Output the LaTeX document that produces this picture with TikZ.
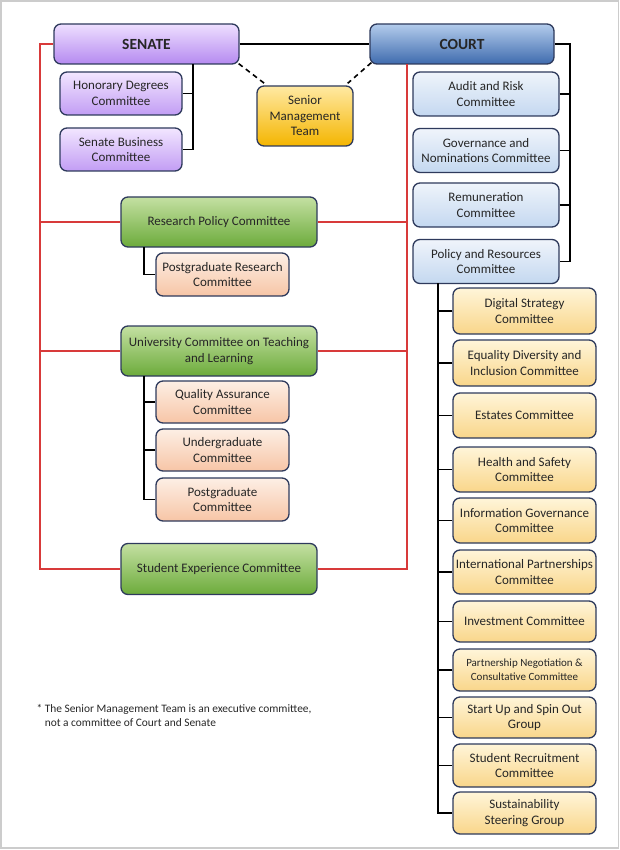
\documentclass[tikz,border=0pt]{standalone}
\usepackage{fontspec}
\setmainfont{Carlito}
\definecolor{edge}{HTML}{2E3A5C}
\definecolor{txt}{HTML}{262626}
\definecolor{redl}{HTML}{D83A3A}

\begin{document}
\begin{tikzpicture}[x=1pt,y=-1pt,
	box/.style={draw=edge,line width=1.3pt,rounded corners=7pt,align=center,inner sep=1pt,text=txt,font=\fontsize{13}{15.5}\selectfont},
	senbox/.style={box,top color=senTop,bottom color=senBot},
	crtbox/.style={box,top color=crtTop,bottom color=crtBot},
	smtbox/.style={box,top color=smtTop,bottom color=smtBot},
	purbox/.style={box,top color=purTop,bottom color=purBot},
	blubox/.style={box,top color=bluTop,bottom color=bluBot},
	grnbox/.style={box,top color=grnTop,bottom color=grnBot},
	pchbox/.style={box,top color=pchTop,bottom color=pchBot},
	ylwbox/.style={box,top color=ylwTop,bottom color=ylwBot,minimum width=143pt},
	blk/.style={draw=black,line width=1.8pt},
	redline/.style={draw=redl,line width=1.6pt}]
	\definecolor{senTop}{HTML}{EEDFFF}\definecolor{senBot}{HTML}{B58AF0}
	\definecolor{crtTop}{HTML}{B3CCEC}\definecolor{crtBot}{HTML}{3F6BAE}
	\definecolor{smtTop}{HTML}{FFE9A3}\definecolor{smtBot}{HTML}{F4B500}
	\definecolor{purTop}{HTML}{F2E6FF}\definecolor{purBot}{HTML}{C29DF4}
	\definecolor{bluTop}{HTML}{EFF4FB}\definecolor{bluBot}{HTML}{C4D8F0}
	\definecolor{grnTop}{HTML}{C4E0A2}\definecolor{grnBot}{HTML}{6CAB3B}
	\definecolor{pchTop}{HTML}{FDEFE5}\definecolor{pchBot}{HTML}{F7C5A6}
	\definecolor{ylwTop}{HTML}{FFF5D9}\definecolor{ylwBot}{HTML}{F9D68A}
		\useasboundingbox (0,0) rectangle (620,850);
		\draw[gray!40,line width=1.5pt] (1,1) rectangle (618.5,848);
		\node[senbox,minimum width=185pt,minimum height=40pt,font=\fontsize{15.5}{18}\selectfont\bfseries] (SEN) at (146.5,44) {SENATE};
		\node[crtbox,minimum width=184pt,minimum height=40pt,font=\fontsize{15.5}{18}\selectfont\bfseries] (CRT) at (462,44) {COURT};
		\node[smtbox,minimum width=96pt,minimum height=60pt] (SMT) at (305,116) {Senior\\Management\\Team};
		\node[purbox,minimum width=122pt,minimum height=43pt] (HDC) at (121,93.5) {Honorary Degrees\\Committee};
		\node[purbox,minimum width=122pt,minimum height=43pt] (SBC) at (121,149.5) {Senate Business\\Committee};
		\node[blubox,minimum width=146pt,minimum height=44pt] (ARC) at (486,94) {Audit and Risk\\Committee};
		\node[blubox,minimum width=146pt,minimum height=44pt] (GNC) at (486,150.5) {Governance and\\Nominations Committee};
		\node[blubox,minimum width=146pt,minimum height=44pt] (REM) at (486,205) {Remuneration\\Committee};
		\node[blubox,minimum width=146pt,minimum height=44pt] (PRS) at (486,261.5) {Policy and Resources\\Committee};
		\node[grnbox,minimum width=196pt,minimum height=50pt] (RPC) at (219,222) {Research Policy Committee};
		\node[grnbox,minimum width=196pt,minimum height=50pt] (UCT) at (219,351) {University Committee on Teaching\\and Learning};
		\node[grnbox,minimum width=196pt,minimum height=51pt] (SEC) at (219,569) {Student Experience Committee};
		\node[pchbox,minimum width=133pt,minimum height=43pt] (PRC) at (222.5,274.5) {Postgraduate Research\\Committee};
		\node[pchbox,minimum width=133pt,minimum height=42pt] (QAC) at (222.5,402) {Quality Assurance\\Committee};
		\node[pchbox,minimum width=133pt,minimum height=42pt] (UGC) at (222.5,450) {Undergraduate\\Committee};
		\node[pchbox,minimum width=133pt,minimum height=43pt] (PGC) at (222.5,499.5) {Postgraduate\\Committee};
		\foreach \i/\y/\h/\t in {1/311/46/{Digital Strategy\\Committee},
			2/363/46/{Equality Diversity and\\Inclusion Committee},
			3/415.5/45/{Estates Committee},
			4/469.5/45/{Health and Safety\\Committee},
			5/520.5/45/{Information Governance\\Committee},
			6/572/44/{International Partnerships\\Committee},
			7/621.5/41/{Investment Committee},
			9/717.5/41/{Start Up and Spin Out\\Group},
			10/765.5/43/{Student Recruitment\\Committee},
			11/813/42/{Sustainability\\Steering Group}}
		\node[ylwbox,minimum height=\h pt] (PR\i) at (524.5,\y) {\t};
		\node[ylwbox,minimum height=42pt,font=\fontsize{11}{14}\selectfont] (PR8) at (524.5,670) {Partnership Negotiation \&\\Consultative Committee};
		\coordinate (SJ) at (193,64);
		\coordinate (CJ) at (570,44);
		\coordinate (RJ) at (144,247);
		\coordinate (UJ) at (144,376);
		\coordinate (PJ) at (438,283);
		\coordinate (RL) at (40,44);
		\coordinate (RR) at (407,64);
		\draw[blk] (SEN) -- (CRT);
		\draw[blk] (SJ) |- (SBC.east);
		\draw[blk] (HDC.east) -- (HDC.east -| SJ);
		\draw[blk] (CRT.east) -- (CJ) |- (PRS.east);
		\foreach \n in {ARC,GNC,REM}
		\draw[blk] (\n.east) -- (\n.east -| CJ);
		\draw[blk] (RJ) |- (PRC.west);
		\draw[blk] (UJ) |- (PGC.west);
		\foreach \n in {QAC,UGC}
		\draw[blk] (\n.west) -- (\n.west -| UJ);
		\draw[blk] (PJ) |- (PR11.west);
		\foreach \i in {1,...,10}
		\draw[blk] (PR\i.west) -- (PR\i.west -| PJ);
		\draw[blk,line width=1.6pt,dash pattern=on 5pt off 4pt] ([xshift=-1pt,yshift=1pt]SEN.south east) -- ([xshift=8pt,yshift=2pt]SMT.north west);
		\draw[blk,line width=1.6pt,dash pattern=on 5pt off 4pt] ([xshift=2pt,yshift=2pt]CRT.south west) -- ([xshift=-6pt,yshift=2pt]SMT.north east);
		\draw[redline] (SEN.west) -- (RL) |- (SEC.west);
		\draw[redline] (SEC.east) -| (RR);
		\foreach \n in {RPC,UCT} {
		\draw[redline] (\n.west) -- (\n.west -| RL);
		\draw[redline] (\n.east) -- (\n.east -| RR);
		}
		\node[anchor=west,align=left,text=txt,font=\fontsize{11.4}{14}\selectfont] (NOTE) at (33,715) {* The Senior Management Team is an executive committee,\\\hphantom{* }not a committee of Court and Senate};
	    \end{tikzpicture}
\end{document}
